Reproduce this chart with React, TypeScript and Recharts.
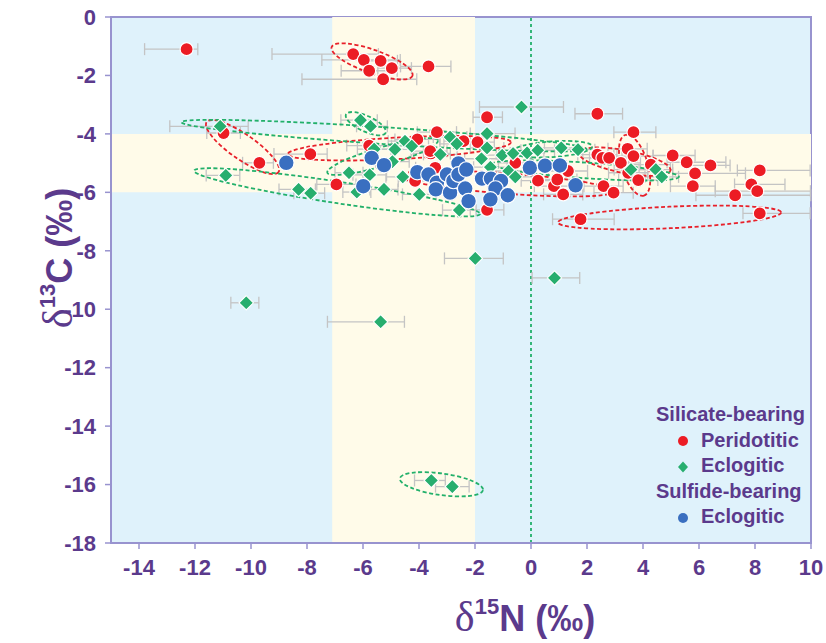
import React from "react";
import {
  ScatterChart,
  Scatter,
  XAxis,
  YAxis,
  ReferenceArea,
  ReferenceLine,
  ErrorBar,
  Label,
} from "recharts";

// ---------- data ----------
const xTicks = [-14, -12, -10, -8, -6, -4, -2, 0, 2, 4, 6, 8, 10];
const yTicks = [0, -2, -4, -6, -8, -10, -12, -14, -16, -18];

// Silicate-bearing, peridotitic (x = δ15N, y = δ13C, e = [minus, plus] on δ15N)
const peridotitic = [
  { x: -12.3, y: -1.1, e: [1.5, 0.4] },
  { x: -6.35, y: -1.27, e: [2.9, 0.9] },
  { x: -5.97, y: -1.47, e: [1.5, 1.3] },
  { x: -5.37, y: -1.5, e: [0.6, 0.6] },
  { x: -4.97, y: -1.75, e: [0.5, 0.7] },
  { x: -5.78, y: -1.84, e: [1.0, 1.0] },
  { x: -5.28, y: -2.13, e: [2.9, 1.2] },
  { x: -3.66, y: -1.69, e: [1.0, 0.8] },
  { x: -10.98, y: -3.97, e: [0.6, 0.6] },
  { x: -9.7, y: -4.99, e: [0.6, 0.5] },
  { x: -7.88, y: -4.69, e: [1.3, 0.6] },
  { x: -6.95, y: -5.73, e: [0.7, 0.7] },
  { x: -5.78, y: -4.4, e: [0.8, 0.8] },
  { x: -4.06, y: -4.19, e: [0.8, 0.8] },
  { x: -3.36, y: -3.94, e: [0.7, 0.7] },
  { x: -2.41, y: -4.25, e: [0.7, 0.7] },
  { x: -1.91, y: -4.28, e: [0.6, 0.6] },
  { x: -3.58, y: -4.67, e: [0.7, 0.7] },
  { x: -3.42, y: -5.16, e: [0.7, 0.7] },
  { x: -4.14, y: -5.61, e: [0.6, 0.6] },
  { x: -3.6, y: -4.59, e: [0.6, 0.6] },
  { x: -1.57, y: -3.43, e: [0.5, 0.55] },
  { x: -0.56, y: -4.99, e: [0.6, 0.6] },
  { x: -1.57, y: -6.6, e: [0.6, 0.6] },
  { x: 0.25, y: -5.6, e: [0.6, 0.6] },
  { x: 0.82, y: -5.79, e: [0.7, 0.7] },
  { x: 0.94, y: -5.56, e: [0.7, 0.7] },
  { x: 1.15, y: -6.07, e: [0.7, 0.7] },
  { x: 1.32, y: -5.27, e: [0.7, 0.7] },
  { x: 1.77, y: -6.92, e: [1.0, 1.2] },
  { x: 2.37, y: -3.31, e: [0.8, 0.9] },
  { x: 3.66, y: -3.94, e: [0.7, 0.8] },
  { x: 2.37, y: -4.71, e: [0.7, 0.7] },
  { x: 2.55, y: -4.82, e: [0.7, 0.7] },
  { x: 2.79, y: -4.82, e: [0.7, 0.7] },
  { x: 3.21, y: -4.99, e: [0.7, 0.7] },
  { x: 3.45, y: -4.51, e: [0.7, 0.7] },
  { x: 3.66, y: -4.76, e: [0.7, 0.7] },
  { x: 3.47, y: -5.33, e: [0.7, 0.7] },
  { x: 3.83, y: -5.58, e: [0.7, 0.7] },
  { x: 4.28, y: -5.05, e: [0.7, 0.7] },
  { x: 2.59, y: -5.79, e: [0.7, 0.7] },
  { x: 2.95, y: -6.01, e: [0.7, 0.7] },
  { x: 5.06, y: -4.74, e: [0.7, 0.8] },
  { x: 5.56, y: -4.97, e: [0.7, 1.4] },
  { x: 6.41, y: -5.08, e: [0.7, 0.7] },
  { x: 5.86, y: -5.35, e: [0.8, 1.8] },
  { x: 8.17, y: -5.25, e: [0.8, 1.8] },
  { x: 5.78, y: -5.79, e: [0.8, 0.8] },
  { x: 7.87, y: -5.73, e: [0.6, 1.2] },
  { x: 8.08, y: -5.96, e: [1.5, 1.9] },
  { x: 7.29, y: -6.1, e: [1.4, 2.7] },
  { x: 8.17, y: -6.72, e: [0.6, 1.8] },
];

// Silicate-bearing, eclogitic
const eclogiticSilicate = [
  { x: -11.1, y: -3.74, e: [1.8, 1.0] },
  { x: -6.09, y: -3.53, e: [0.7, 0.6] },
  { x: -5.73, y: -3.74, e: [0.5, 0.6] },
  { x: -10.9, y: -5.42, e: [0.7, 0.5] },
  { x: -8.3, y: -5.9, e: [0.7, 0.6] },
  { x: -7.87, y: -6.03, e: [0.6, 0.5] },
  { x: -6.5, y: -5.33, e: [0.5, 0.5] },
  { x: -6.22, y: -5.99, e: [0.5, 0.5] },
  { x: -5.6, y: -4.52, e: [0.6, 0.6] },
  { x: -5.76, y: -5.4, e: [0.6, 0.6] },
  { x: -5.25, y: -5.9, e: [0.5, 0.5] },
  { x: -4.95, y: -4.95, e: [0.6, 0.6] },
  { x: -4.86, y: -4.53, e: [0.6, 0.6] },
  { x: -4.5, y: -4.25, e: [0.6, 0.6] },
  { x: -4.26, y: -4.42, e: [0.6, 0.6] },
  { x: -4.58, y: -5.47, e: [0.6, 0.6] },
  { x: -3.99, y: -6.07, e: [0.6, 0.6] },
  { x: -3.24, y: -4.7, e: [0.6, 0.6] },
  { x: -2.89, y: -4.11, e: [0.6, 0.6] },
  { x: -2.65, y: -4.34, e: [0.6, 0.6] },
  { x: -2.56, y: -6.61, e: [0.6, 0.6] },
  { x: -1.99, y: -8.26, e: [1.1, 1.0] },
  { x: -0.34, y: -3.08, e: [1.5, 1.5] },
  { x: -1.57, y: -3.99, e: [0.6, 1.0] },
  { x: -1.57, y: -4.48, e: [0.6, 0.6] },
  { x: -1.77, y: -4.85, e: [0.6, 0.6] },
  { x: -1.03, y: -4.73, e: [0.6, 0.6] },
  { x: -0.64, y: -4.67, e: [0.6, 0.6] },
  { x: -0.14, y: -4.65, e: [0.6, 0.6] },
  { x: 0.24, y: -4.56, e: [0.6, 0.6] },
  { x: -1.45, y: -5.14, e: [0.6, 0.6] },
  { x: -0.8, y: -5.27, e: [0.6, 0.6] },
  { x: -0.56, y: -5.47, e: [0.6, 0.6] },
  { x: 1.08, y: -4.48, e: [0.6, 0.6] },
  { x: 1.68, y: -4.54, e: [0.6, 0.6] },
  { x: 3.57, y: -5.22, e: [0.6, 0.6] },
  { x: 4.46, y: -5.22, e: [0.6, 0.6] },
  { x: 4.67, y: -5.47, e: [0.6, 0.6] },
  { x: 0.84, y: -8.93, e: [0.8, 0.9] },
  { x: -10.17, y: -9.78, e: [0.55, 0.45] },
  { x: -5.37, y: -10.43, e: [1.9, 0.85] },
  { x: -3.56, y: -15.86, e: [0.6, 0.5] },
  { x: -2.81, y: -16.07, e: [0.6, 0.6] },
];

// Sulfide-bearing, eclogitic
const eclogiticSulfide = [
  { x: -8.74, y: -4.99 },
  { x: -5.69, y: -4.82 },
  { x: -5.25, y: -5.07 },
  { x: -5.99, y: -5.79 },
  { x: -4.06, y: -5.31 },
  { x: -3.66, y: -5.39 },
  { x: -3.36, y: -5.67 },
  { x: -3.4, y: -5.9 },
  { x: -2.89, y: -6.01 },
  { x: -3.0, y: -5.39 },
  { x: -2.77, y: -5.61 },
  { x: -2.59, y: -5.01 },
  { x: -2.59, y: -5.39 },
  { x: -2.31, y: -5.22 },
  { x: -2.35, y: -5.87 },
  { x: -2.23, y: -6.3 },
  { x: -1.75, y: -5.53 },
  { x: -1.43, y: -5.53 },
  { x: -1.07, y: -5.61 },
  { x: -1.27, y: -5.87 },
  { x: -1.45, y: -6.24 },
  { x: -0.83, y: -6.1 },
  { x: -0.04, y: -5.16 },
  { x: 0.5, y: -5.09 },
  { x: 1.03, y: -5.08 },
  { x: 1.59, y: -5.76 },
];

// Dashed grouping ellipses: major-axis end points (data units) and half-width (δ13C units)
const redEllipses = [
  { x1: -6.85, y1: -1.12, x2: -4.5, y2: -1.92, w: 0.33 },
  { x1: -11.35, y1: -3.75, x2: -9.25, y2: -5.15, w: 0.36 },
  { x1: -8.4, y1: -4.68, x2: -1.0, y2: -4.3, w: 0.3 },
  { x1: -4.4, y1: -5.45, x2: 2.7, y2: -5.95, w: 0.28 },
  { x1: 2.0, y1: -4.7, x2: 4.7, y2: -5.2, w: 0.32 },
  { x1: 3.45, y1: -4.3, x2: 3.95, y2: -5.85, w: 0.38 },
  { x1: 1.25, y1: -7.02, x2: 8.65, y2: -6.7, w: 0.3 },
];
const greenEllipses = [
  { x1: -12.2, y1: -3.62, x2: 1.7, y2: -4.5, w: 0.22 },
  { x1: -11.75, y1: -5.3, x2: -2.1, y2: -6.7, w: 0.3 },
  { x1: -6.35, y1: -3.45, x2: -5.45, y2: -3.85, w: 0.2 },
  { x1: -1.1, y1: -5.05, x2: 5.0, y2: -5.45, w: 0.2 },
  { x1: -0.4, y1: -4.6, x2: 1.9, y2: -4.45, w: 0.2 },
  { x1: -7.0, y1: -5.25, x2: -3.6, y2: -4.3, w: 0.25 },
  { x1: -4.4, y1: -15.83, x2: -2.0, y2: -16.15, w: 0.3 },
];

// ---------- layout & style ----------
const W = 826;
const H = 643;
const M = { top: 17, right: 15, left: 0, bottom: 0 };
const Y_AXIS_W = 111;
const X_AXIS_H = 100;
const PLOT_W = W - M.left - M.right - Y_AXIS_W;
const PLOT_H = H - M.top - M.bottom - X_AXIS_H;
const X_DOMAIN = [-15, 10];
const Y_DOMAIN = [-18, 0];
const PX_X = PLOT_W / (X_DOMAIN[1] - X_DOMAIN[0]);
const PX_Y = PLOT_H / (Y_DOMAIN[1] - Y_DOMAIN[0]);

const PURPLE = "#5b3a8c";
const AXIS = "#9893cf";
const RED = "#ec1c24";
const GREEN = "#27ae6e";
const BLUE = "#3a6fc0";
const SANS = "'Liberation Sans', Arial, Helvetica, sans-serif";
const SERIF = "'Liberation Serif', 'Times New Roman', serif";

const withMid = (arr: any[]) =>
  arr.map((d) => ({ ...d, x: (d.x1 + d.x2) / 2, y: (d.y1 + d.y2) / 2 }));

const ellipseShape = (color: string) => (p: any) => {
  const d = p.payload;
  if (p.cx == null || p.cy == null) return <g />;
  const dx = ((d.x2 - d.x1) / 2) * PX_X;
  const dy = (-(d.y2 - d.y1) / 2) * PX_Y;
  const rx = Math.sqrt(dx * dx + dy * dy) + 8;
  const ry = d.w * PX_Y + 2;
  const ang = (Math.atan2(dy, dx) * 180) / Math.PI;
  return (
    <ellipse
      cx={p.cx}
      cy={p.cy}
      rx={rx}
      ry={ry}
      transform={`rotate(${ang} ${p.cx} ${p.cy})`}
      fill="none"
      stroke={color}
      strokeWidth={1.8}
      strokeDasharray="4 2.5"
    />
  );
};

const circleShape = (color: string, r: number) => (p: any) =>
  p.cx == null ? <g /> : (
    <circle cx={p.cx} cy={p.cy} r={r} fill={color} stroke="#ffffff" strokeWidth={1.2} />
  );

const diamondShape = (color: string, s: number) => (p: any) =>
  p.cx == null ? <g /> : (
    <path
      d={`M${p.cx},${p.cy - s}L${p.cx + s},${p.cy}L${p.cx},${p.cy + s}L${p.cx - s},${p.cy}Z`}
      fill={color}
      stroke="#ffffff"
      strokeWidth={1.1}
    />
  );

const tickStyle = { fill: PURPLE, fontSize: 22, fontWeight: 700, fontFamily: SANS };

const XTitle = (props: any) => {
  const vb = props.viewBox || { x: 0, y: 0, width: 0 };
  const cx = vb.x + vb.width / 2 + 64;
  const y = vb.y + 88;
  return (
    <text x={cx} y={y} textAnchor="middle" fill={PURPLE}>
      <tspan fontFamily={SERIF} fontSize={42}>δ</tspan>
      <tspan fontFamily={SANS} fontWeight={700} fontSize={22} dy={-17}>15</tspan>
      <tspan fontFamily={SANS} fontWeight={700} fontSize={36} dy={17}>N (‰)</tspan>
    </text>
  );
};

const YTitle = (props: any) => {
  const vb = props.viewBox || { x: 0, y: 0, height: 0 };
  const x = 72;
  const cy = vb.y + vb.height / 2 - 22;
  return (
    <text
      x={x}
      y={cy}
      textAnchor="middle"
      fill={PURPLE}
      transform={`rotate(-90 ${x} ${cy})`}
    >
      <tspan fontFamily={SERIF} fontSize={42}>δ</tspan>
      <tspan fontFamily={SANS} fontWeight={700} fontSize={22} dy={-17}>13</tspan>
      <tspan fontFamily={SANS} fontWeight={700} fontSize={36} dy={17}>C (‰)</tspan>
    </text>
  );
};

const legendRows = [
  { kind: "header", text: "Silicate-bearing" },
  { kind: "circle", color: RED, text: "Peridotitic" },
  { kind: "diamond", color: GREEN, text: "Eclogitic" },
  { kind: "header", text: "Sulfide-bearing" },
  { kind: "circle", color: BLUE, text: "Eclogitic" },
];

const LegendBox = () => (
  <div
    style={{
      position: "absolute",
      left: 656,
      top: 402,
      fontFamily: SANS,
      fontWeight: 700,
      fontSize: 20,
      color: PURPLE,
      lineHeight: "25.5px",
      whiteSpace: "nowrap",
    }}
  >
    {legendRows.map((r, i) => (
      <div key={i} style={{ display: "flex", alignItems: "center", paddingLeft: r.kind === "header" ? 0 : 20 }}>
        {r.kind !== "header" && (
          <svg width={14} height={14} style={{ marginRight: 11 }}>
            {r.kind === "circle" ? (
              <circle cx={7} cy={8} r={5} fill={r.color} />
            ) : (
              <path d="M7,2.5L12,8L7,13.5L2,8Z" fill={r.color} />
            )}
          </svg>
        )}
        <span>{r.text}</span>
      </div>
    ))}
  </div>
);

export default function App() {
  return (
    <div style={{ position: "absolute", left: 0, top: 0, width: W, height: H, background: "#ffffff" }}>
      <ScatterChart width={W} height={H} margin={M}>
        <XAxis
          type="number"
          dataKey="x"
          domain={X_DOMAIN}
          ticks={xTicks}
          interval={0}
          allowDataOverflow
          height={X_AXIS_H}
          tick={tickStyle}
          tickSize={6}
          tickMargin={10}
          axisLine={{ stroke: AXIS, strokeWidth: 2 }}
          tickLine={{ stroke: AXIS, strokeWidth: 1.5 }}
        >
          <Label content={XTitle} />
        </XAxis>
        <YAxis
          type="number"
          dataKey="y"
          domain={Y_DOMAIN}
          ticks={yTicks}
          interval={0}
          allowDataOverflow
          width={Y_AXIS_W}
          tick={tickStyle}
          tickSize={6}
          tickMargin={9}
          axisLine={{ stroke: AXIS, strokeWidth: 2 }}
          tickLine={{ stroke: AXIS, strokeWidth: 1.5 }}
        >
          <Label content={YTitle} />
        </YAxis>

        <ReferenceArea x1={-15} x2={10} y1={-18} y2={0} fill="#dff2fb" fillOpacity={1} stroke={AXIS} strokeWidth={2} />
        <ReferenceArea x1={-7.1} x2={-2} y1={-18} y2={0} fill="#fffbe9" fillOpacity={1} />
        <ReferenceArea x1={-15} x2={10} y1={-6} y2={-4} fill="#fffbe9" fillOpacity={1} />
        <ReferenceLine x={0} stroke="#22b06a" strokeWidth={1.8} strokeDasharray="3 3" />

        <Scatter data={withMid(redEllipses)} shape={ellipseShape("#e8202a")} isAnimationActive={false} legendType="none" />
        <Scatter data={withMid(greenEllipses)} shape={ellipseShape("#22b06a")} isAnimationActive={false} legendType="none" />

        <Scatter name="Peridotitic" data={peridotitic} shape={circleShape(RED, 6.5)} isAnimationActive={false}>
          <ErrorBar dataKey="e" direction="x" width={6} stroke="#c4c4c4" strokeWidth={1.3} />
        </Scatter>
        <Scatter name="Eclogitic" data={eclogiticSilicate} shape={diamondShape(GREEN, 7.2)} isAnimationActive={false}>
          <ErrorBar dataKey="e" direction="x" width={6} stroke="#c4c4c4" strokeWidth={1.3} />
        </Scatter>
        <Scatter name="Eclogitic (sulfide)" data={eclogiticSulfide} shape={circleShape(BLUE, 7.8)} isAnimationActive={false} />
      </ScatterChart>
      <LegendBox />
    </div>
  );
}
